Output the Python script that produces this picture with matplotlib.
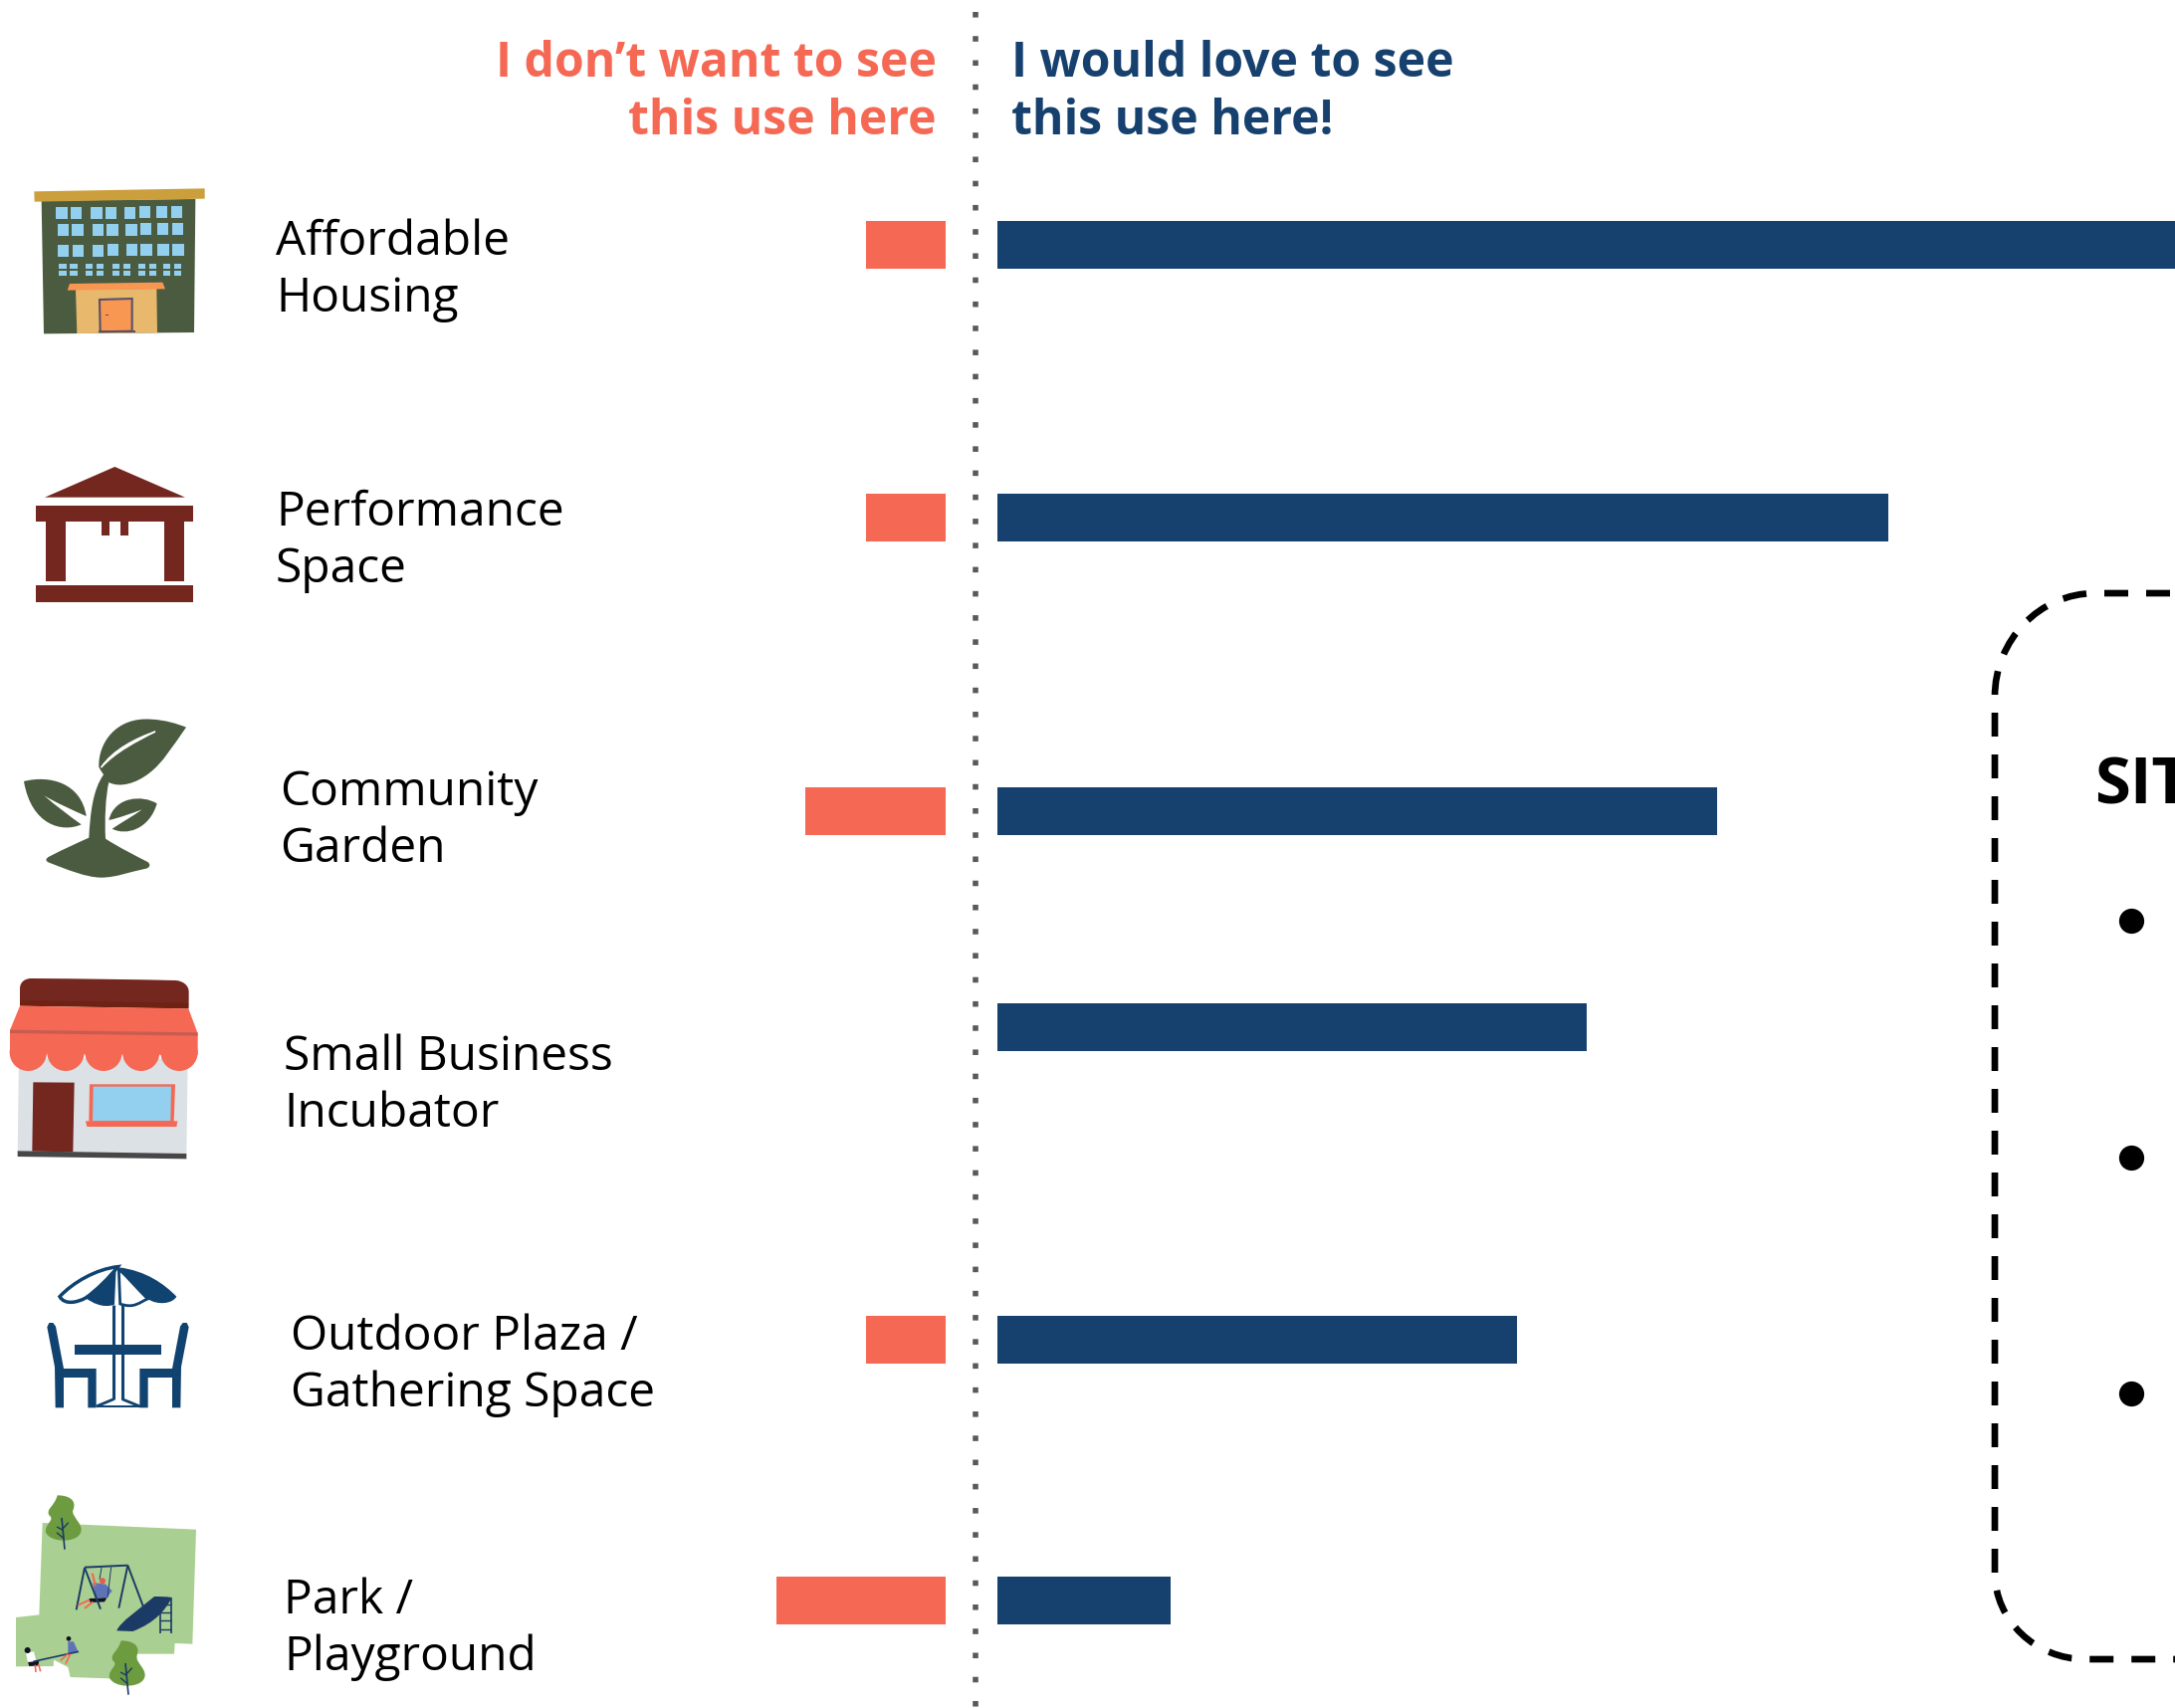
#!/usr/bin/env python3
"""Community survey chart: which uses people want to see on the site."""

import matplotlib
matplotlib.use('Agg')
import matplotlib.pyplot as plt
from matplotlib.patches import Circle, PathPatch, Polygon
from matplotlib.path import Path

# Chart data
CATEGORIES = ['Affordable\nHousing', 'Performance\nSpace', 'Community\nGarden',
              'Small Business\nIncubator', 'Outdoor Plaza /\nGathering Space', 'Park /\nPlayground']
DONT_WANT = [1.98, 1.98, 3.5, 0, 1.98, 4.2]
LOVE = [31, 22.15, 17.9, 14.65, 12.93, 4.3]
HEAD_LEFT = ['I don\u2019t want to see', 'this use here']
HEAD_RIGHT = ['I would love to see', 'this use here!']
BOX_TITLE = 'SITE'

# Layout, in pixels of the 2185x1716 picture
W, H = 2185, 1716
PX_PER_UNIT = 40.4
ROW_Y = [246, 520, 815, 1032, 1345.5, 1608]
LABEL_X = [277, 277, 281, 285, 292, 285]
LABEL_BASE = [256, 528, 809, 1075, 1356, 1621]
LINE_GAP = 57

CORAL = '#F56853'
NAVY = '#16406E'
GREEN = '#4A5B3F'
BROWN = '#73271F'
SKY = '#93CFEE'
ICON_BLUE = '#10436F'

plt.rcParams['font.family'] = ['Open Sans', 'DejaVu Sans']

fig = plt.figure(figsize=(W / 100, H / 100), dpi=100, facecolor='white')
ax = fig.add_axes([0, 0, 1, 1])
ax.set_xlim(0, W)
ax.set_ylim(H, 0)
ax.axis('off')


def poly(pts, color, ox=0, oy=0, **kw):
    """Filled polygon, points given in 3x zoomed coordinates."""
    xy = [(ox + x / 3, oy + y / 3) for x, y in pts]
    ax.add_patch(Polygon(xy, closed=True, fc=color, ec=kw.pop('ec', 'none'), **kw))


def box(x0, y0, x1, y1, color, ox=0, oy=0):
    poly([(x0, y0), (x1, y0), (x1, y1), (x0, y1)], color, ox, oy)


def curve(start, segs, color, ox=0, oy=0, ec='none', lw=0):
    """Closed shape from bezier segments (c1, c2, end); a single point is a straight line."""
    verts = [start]
    codes = [Path.MOVETO]
    for seg in segs:
        if len(seg) == 3:
            verts += list(seg)
            codes += [Path.CURVE4] * 3
        else:
            verts.append(seg[0])
            codes.append(Path.LINETO)
    verts.append(start)
    codes.append(Path.CLOSEPOLY)
    verts = [(ox + x / 3, oy + y / 3) for x, y in verts]
    ax.add_patch(PathPatch(Path(verts, codes), fc=color, ec=ec, lw=lw))


def seg(x0, y0, x1, y1, color, lw, ox=0, oy=0):
    ax.plot([ox + x0 / 3, ox + x1 / 3], [oy + y0 / 3, oy + y1 / 3], color=color, lw=lw,
            solid_capstyle='butt')


def draw_building():
    ox, oy = 0, 160
    poly([(125, 125), (589, 120), (585, 522), (132, 526)], GREEN, ox, oy)
    poly([(103, 97), (617, 88), (617, 119), (104, 128)], '#CC9F3D', ox, oy)
    for dx, y0 in [(0, 145), (4, 196), (5, 258)]:
        for k, x in enumerate([169, 213, 274, 318, 375, 419, 470, 515]):
            tilt = k * 0.6
            box(x + dx, y0 - tilt, x + dx + 34, y0 + 36 - tilt, SKY, ox, oy)
    for x in [178, 211, 257, 290, 339, 372, 417, 450, 492, 525]:
        box(x, 316, x + 22, 330, SKY, ox, oy)
        box(x, 336, x + 22, 351, SKY, ox, oy)
    poly([(228, 392), (472, 390), (474, 523), (232, 525)], '#E8B86D', ox, oy)
    poly([(210, 375), (490, 371), (498, 391), (203, 395)], '#F79752', ox, oy)
    poly([(300, 423), (398, 420), (398, 518), (302, 520)], '#F79752', ox, oy, ec='#5B5068', lw=1.5)
    box(297, 516, 408, 523, '#5B5068', ox, oy)
    box(318, 467, 326, 472, '#5B5068', ox, oy)


def draw_pavilion():
    ox, oy = 0, 160
    poly([(135, 1019), (346, 927), (558, 1019)], BROWN, ox, oy)
    box(109, 1043, 583, 1093, BROWN, ox, oy)
    box(138, 1093, 198, 1272, BROWN, ox, oy)
    box(495, 1093, 555, 1272, BROWN, ox, oy)
    box(307, 1093, 330, 1133, BROWN, ox, oy)
    box(363, 1093, 387, 1133, BROWN, ox, oy)
    box(109, 1285, 583, 1336, BROWN, ox, oy)


def draw_plant():
    ox, oy = 0, 700
    curve((298, 212), [((295, 140), (350, 60), (455, 68)), ((500, 70), (535, 82), (561, 92)),
                       ((520, 150), (490, 200), (450, 230)), ((410, 262), (360, 275), (328, 258)),
                       ((315, 240), (305, 225), (298, 212))], GREEN, ox, oy)
    curve((305, 213), [((340, 160), (410, 125), (468, 105)), ((410, 135), (350, 165), (305, 213))],
          'white', ox, oy, ec='white', lw=1)
    curve((268, 425), [((272, 350), (280, 280), (312, 235)), ((330, 240), (330, 250), (328, 258)),
                       ((318, 300), (315, 370), (318, 428)), ((360, 455), (410, 480), (445, 498)),
                       ((455, 505), (452, 515), (440, 518)), ((390, 528), (350, 545), (305, 545)),
                       ((260, 545), (200, 520), (148, 500)), ((135, 495), (138, 487), (148, 482)),
                       ((190, 460), (230, 442), (268, 425))], GREEN, ox, oy)
    curve((72, 255), [((150, 235), (245, 260), (260, 360)), ((215, 340), (170, 320), (133, 298)),
                      ((170, 330), (210, 360), (245, 385)), ((190, 410), (95, 390), (72, 255))],
          GREEN, ox, oy)
    curve((473, 322), [((430, 295), (345, 300), (328, 372)), ((360, 365), (395, 352), (428, 340)),
                       ((400, 360), (365, 380), (338, 398)), ((380, 420), (450, 400), (473, 322))],
          GREEN, ox, oy)


def draw_shop():
    ox, oy = 0, 700
    poly([(57, 1090), (566, 1090), (562, 1380), (53, 1372)], '#DCE1E6', ox, oy)
    poly([(100, 1162), (224, 1163), (220, 1372), (97, 1370)], BROWN, ox, oy)
    poly([(270, 1168), (528, 1168), (524, 1282), (268, 1280)], CORAL, ox, oy)
    poly([(281, 1175), (516, 1175), (514, 1278), (279, 1278)], SKY, ox, oy)
    poly([(258, 1279), (535, 1279), (532, 1296), (262, 1296)], CORAL, ox, oy)
    poly([(53, 1369), (562, 1377), (562, 1393), (53, 1386)], '#474747', ox, oy)
    curve((60, 930), [((60, 910), (60, 885), (60, 880)), ((60, 860), (75, 849), (95, 849)),
                      ((250, 850), (400, 852), (530, 855)), ((552, 857), (569, 870), (569, 890)),
                      ((569, 905), (569, 925), (568, 940))], BROWN, ox, oy)
    poly([(60, 915), (568, 923), (568, 940), (60, 932)], '#6E2214', ox, oy)
    poly([(60, 932), (568, 940), (596, 1015), (596, 1080), (30, 1075), (30, 1005)], CORAL, ox, oy)
    for cx in [85, 198, 312, 425, 540]:
        ax.add_patch(Circle((ox + cx / 3, oy + 1072 / 3), 56 / 3, fc=CORAL, ec='none'))
    poly([(30, 1004), (596, 1012), (596, 1022), (30, 1014)], '#C95C50', ox, oy)


def draw_plaza():
    ox, oy = 0, 1240
    # umbrella panels
    curve((355, 98), [((290, 105), (220, 145), (180, 188)), ((195, 215), (235, 205), (258, 192)),
                      ((290, 170), (330, 130), (355, 98))], 'white', ox, oy, ec=ICON_BLUE, lw=2.5)
    curve((350, 100), [((320, 135), (290, 165), (258, 192)), ((275, 205), (310, 225), (345, 212))],
          ICON_BLUE, ox, oy)
    curve((358, 100), [((440, 110), (495, 150), (532, 188)), ((520, 210), (475, 215), (445, 195)),
                       ((415, 165), (385, 130), (358, 100))], ICON_BLUE, ox, oy)
    curve((358, 105), [((385, 130), (415, 165), (445, 195)), ((420, 205), (405, 225), (362, 210))],
          'white', ox, oy, ec=ICON_BLUE, lw=2)
    # pole, table and base
    seg(343, 212, 343, 497, ICON_BLUE, 2.2, ox, oy)
    seg(368, 212, 368, 497, ICON_BLUE, 2.2, ox, oy)
    box(225, 332, 486, 362, ICON_BLUE, ox, oy)
    seg(290, 519, 343, 497, ICON_BLUE, 2, ox, oy)
    seg(368, 497, 422, 519, ICON_BLUE, 2, ox, oy)
    box(290, 516, 422, 523, ICON_BLUE, ox, oy)
    # chairs, right one mirrored about the pole
    for mirror in (False, True):
        mx = (lambda x: 711 - x) if mirror else (lambda x: x)
        pts = [(142, 280), (165, 400), (167, 523), (192, 523), (192, 432), (265, 432), (265, 523),
               (290, 523), (290, 405), (192, 405), (168, 278), (160, 267), (148, 267)]
        poly([(mx(x), y) for x, y in pts], ICON_BLUE, ox, oy)


def draw_tree(x, y):
    ox, oy = 0, 1240
    curve((x - 15, y), [((x + 20, y), (x + 45, y + 15), (x + 32, y + 45)),
                        ((x + 25, y + 65), (x + 72, y + 90), (x + 52, y + 118)),
                        ((x + 35, y + 143), (x - 35, y + 143), (x - 50, y + 112)),
                        ((x - 55, y + 85), (x - 20, y + 75), (x - 40, y + 60)),
                        ((x - 50, y + 40), (x - 25, y + 35), (x - 15, y))], '#6C9C3F', ox, oy)
    seg(x - 2, y + 68, x + 7, y + 163, '#1B3A66', 1.2, ox, oy)
    seg(x + 2, y + 105, x - 17, y + 95, '#1B3A66', 1, ox, oy)
    seg(x + 2, y + 100, x + 18, y + 82, '#1B3A66', 1, ox, oy)
    seg(x + 4, y + 130, x - 17, y + 112, '#1B3A66', 1, ox, oy)


def draw_park():
    ox, oy = 0, 1240
    navy = '#1B3A66'
    shirt = '#5E72B8'
    poly([(128, 870), (591, 890), (580, 1235), (527, 1233), (525, 1265), (413, 1265), (415, 1342),
          (212, 1335), (205, 1305), (162, 1283), (161, 1302), (48, 1303), (48, 1155), (118, 1147)],
         '#AACF92', ox, oy)
    draw_tree(188, 787)
    draw_tree(380, 1225)
    # swing set
    seg(255, 1004, 385, 998, navy, 1.4, ox, oy)
    seg(255, 1005, 230, 1132, navy, 1.4, ox, oy)
    seg(255, 1005, 303, 1130, navy, 1.4, ox, oy)
    seg(385, 998, 358, 1127, navy, 1.4, ox, oy)
    seg(385, 998, 432, 1123, navy, 1.4, ox, oy)
    seg(306, 1005, 300, 1040, navy, 0.7, ox, oy)
    seg(335, 1003, 324, 1095, navy, 0.7, ox, oy)
    poly([(280, 1050), (318, 1055), (338, 1075), (320, 1098), (288, 1095)], shirt, ox, oy)
    poly([(268, 1098), (322, 1096), (315, 1108), (272, 1110)], '#111122', ox, oy)
    seg(270, 1102, 235, 1118, CORAL, 1.4, ox, oy)
    seg(280, 1108, 255, 1128, CORAL, 1.4, ox, oy)
    seg(278, 1022, 288, 1060, CORAL, 1.6, ox, oy)
    ax.add_patch(Circle((ox + 309 / 3, oy + 1045 / 3), 9 / 3, fc='#E85A4F', ec='none'))
    # slide and ladder
    curve((352, 1195), [((360, 1170), (420, 1130), (465, 1092)), ((482, 1092), (500, 1092), (518, 1095)),
                        ((500, 1130), (470, 1170), (400, 1197))], navy, ox, oy)
    seg(482, 1095, 482, 1202, navy, 1.2, ox, oy)
    seg(517, 1095, 517, 1202, navy, 1.2, ox, oy)
    for y in [1115, 1140, 1165, 1190]:
        seg(482, y, 517, y, navy, 1, ox, oy)
    # seesaw
    seg(100, 1288, 237, 1258, navy, 1.2, ox, oy)
    poly([(78, 1262), (102, 1258), (110, 1290), (85, 1295)], 'white', ox, oy)
    poly([(84, 1290), (118, 1286), (115, 1300), (88, 1302)], '#111122', ox, oy)
    seg(106, 1298, 108, 1320, CORAL, 1.2, ox, oy)
    seg(116, 1296, 122, 1318, CORAL, 1.2, ox, oy)
    ax.add_patch(Circle((ox + 83 / 3, oy + 1254 / 3), 9 / 3, fc='#111122', ec='none'))
    poly([(205, 1228), (222, 1228), (235, 1258), (205, 1265)], shirt, ox, oy)
    ax.add_patch(Circle((ox + 207 / 3, oy + 1219 / 3), 7 / 3, fc='#111122', ec='none'))
    seg(205, 1265, 182, 1285, CORAL, 1.2, ox, oy)
    seg(212, 1265, 198, 1295, CORAL, 1.2, ox, oy)


def draw_bars():
    """Back to back bars, sharing the picture's rows."""
    left = fig.add_axes([0, 0, 950 / W, 1])
    left.set_xlim(950 / PX_PER_UNIT, 0)
    left.set_ylim(H, 0)
    left.axis('off')
    left.barh(ROW_Y, DONT_WANT, height=48, color=CORAL)

    right = fig.add_axes([1002 / W, 0, (W - 1002) / W, 1])
    right.set_xlim(0, (W - 1002) / PX_PER_UNIT)
    right.set_ylim(H, 0)
    right.axis('off')
    right.barh(ROW_Y, LOVE, height=48, color=NAVY)


def draw_text():
    for label, x, base in zip(CATEGORIES, LABEL_X, LABEL_BASE):
        for i, line in enumerate(label.split('\n')):
            ax.text(x, base + i * LINE_GAP, line, fontsize=34.5, color='black', va='baseline')
    for i, (red, blue) in enumerate(zip(HEAD_LEFT, HEAD_RIGHT)):
        y = 77 + i * 58
        ax.text(941, y, red, fontsize=34.7, fontweight='bold', color=CORAL, ha='right', va='baseline')
        ax.text(1016.5, y, blue, fontsize=34.7, fontweight='bold', color=NAVY, va='baseline')


def draw_site_box():
    """Dashed box that runs off the right edge, with its clipped title and bullets."""
    lw = 4.8
    unit = lw / 0.72
    on, off = 24 / unit, 18 / unit
    # both pieces start at the same vertical dash so the dashes line up as in the reference
    lower = Path([(2004, 716), (2004, 1580), (2004, 1628), (2045, 1667), (2095, 1667), (2300, 1667)],
                 [Path.MOVETO, Path.LINETO, Path.CURVE4, Path.CURVE4, Path.CURVE4, Path.LINETO])
    upper = Path([(2004, 716), (2004, 700), (2004, 643), (2049, 596), (2105, 596), (2300, 596)],
                 [Path.MOVETO, Path.LINETO, Path.CURVE4, Path.CURVE4, Path.CURVE4, Path.LINETO])
    ax.add_patch(PathPatch(lower, fc='none', ec='black', lw=lw, linestyle=(0, (on, off)), capstyle='butt'))
    ax.add_patch(PathPatch(upper, fc='none', ec='black', lw=lw, linestyle=(on, (on, off)), capstyle='butt'))
    ax.text(2104, 807, BOX_TITLE, fontsize=47, fontweight='bold', color='black', va='baseline',
            clip_on=True)
    ax.scatter([2141, 2141, 2141], [925, 1163, 1400], s=330, color='black', linewidths=0)


def main():
    # dotted divider between the two sides
    ax.plot([980, 980], [11.5, H], color='#595959', lw=4,
            linestyle=(0, (5.5 / 5.5, 18.5 / 5.5)), dash_capstyle='butt')
    draw_building()
    draw_pavilion()
    draw_plant()
    draw_shop()
    draw_plaza()
    draw_park()
    draw_site_box()
    draw_text()
    draw_bars()
    fig.savefig('out.png', dpi=100)


if __name__ == '__main__':
    main()
